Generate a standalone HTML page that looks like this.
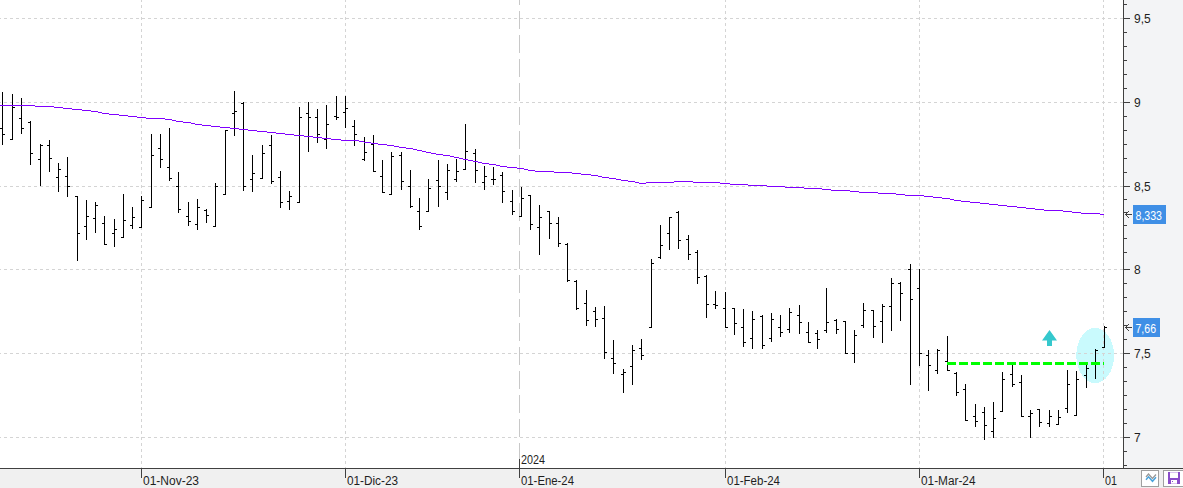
<!DOCTYPE html>
<html><head><meta charset="utf-8"><title>Chart</title>
<style>html,body{margin:0;padding:0;background:#fff;overflow:hidden}svg{display:block}text{font-family:"Liberation Sans",Arial,sans-serif;font-size:12px;fill:#1e1e1e}</style></head><body>
<svg width="1183" height="488" viewBox="0 0 1183 488" shape-rendering="crispEdges">
<rect x="0" y="0" width="1123" height="468" fill="#ffffff"/>
<rect x="1124" y="0" width="59" height="468" fill="#f3f4f6"/>
<rect x="0" y="469" width="1183" height="19" fill="#f0f0f0"/>
<ellipse cx="1095.2" cy="355.5" rx="18.9" ry="27.6" fill="#c9fafd"/>
<line x1="0" y1="18.5" x2="1123" y2="18.5" stroke="#d4d4d4" stroke-width="1" stroke-dasharray="3 3" stroke-dashoffset="2"/>
<line x1="0" y1="102.5" x2="1123" y2="102.5" stroke="#d4d4d4" stroke-width="1" stroke-dasharray="3 3" stroke-dashoffset="2"/>
<line x1="0" y1="186.5" x2="1123" y2="186.5" stroke="#d4d4d4" stroke-width="1" stroke-dasharray="3 3" stroke-dashoffset="2"/>
<line x1="0" y1="269.5" x2="1123" y2="269.5" stroke="#d4d4d4" stroke-width="1" stroke-dasharray="3 3" stroke-dashoffset="2"/>
<line x1="0" y1="353.5" x2="1123" y2="353.5" stroke="#d4d4d4" stroke-width="1" stroke-dasharray="3 3" stroke-dashoffset="2"/>
<line x1="0" y1="437.5" x2="1123" y2="437.5" stroke="#d4d4d4" stroke-width="1" stroke-dasharray="3 3" stroke-dashoffset="2"/>
<line x1="141.5" y1="0" x2="141.5" y2="468" stroke="#d4d4d4" stroke-width="1" stroke-dasharray="3 3" stroke-dashoffset="1"/>
<line x1="345.5" y1="0" x2="345.5" y2="468" stroke="#d4d4d4" stroke-width="1" stroke-dasharray="3 3" stroke-dashoffset="1"/>
<line x1="725.5" y1="0" x2="725.5" y2="468" stroke="#d4d4d4" stroke-width="1" stroke-dasharray="3 3" stroke-dashoffset="1"/>
<line x1="919.5" y1="0" x2="919.5" y2="468" stroke="#d4d4d4" stroke-width="1" stroke-dasharray="3 3" stroke-dashoffset="1"/>
<line x1="1103.5" y1="0" x2="1103.5" y2="468" stroke="#d4d4d4" stroke-width="1" stroke-dasharray="3 3" stroke-dashoffset="1"/>
<line x1="519.5" y1="0" x2="519.5" y2="468" stroke="#c8c8c8" stroke-width="1" stroke-dasharray="18 6" stroke-dashoffset="13"/>
<path d="M2 92h1v53h-1zM0 128h2v1h-2zM3 134h2v1h-2z" fill="#000"/>
<path d="M12 94h1v46h-1zM10 139h2v1h-2zM13 107h2v1h-2z" fill="#000"/>
<path d="M21 98h1v36h-1zM19 118h2v1h-2zM22 128h2v1h-2z" fill="#000"/>
<path d="M30 121h1v44h-1zM28 122h2v1h-2zM31 153h2v1h-2z" fill="#000"/>
<path d="M40 144h1v42h-1zM38 159h2v1h-2zM41 145h2v1h-2z" fill="#000"/>
<path d="M49 140h1v32h-1zM47 145h2v1h-2zM50 158h2v1h-2z" fill="#000"/>
<path d="M58 163h1v29h-1zM56 177h2v1h-2zM59 169h2v1h-2z" fill="#000"/>
<path d="M67 157h1v40h-1zM65 176h2v1h-2zM68 186h2v1h-2z" fill="#000"/>
<path d="M77 196h1v65h-1zM75 196h2v1h-2zM78 233h2v1h-2z" fill="#000"/>
<path d="M86 200h1v40h-1zM84 226h2v1h-2zM87 216h2v1h-2z" fill="#000"/>
<path d="M95 202h1v31h-1zM93 218h2v1h-2zM96 205h2v1h-2z" fill="#000"/>
<path d="M104 216h1v29h-1zM102 223h2v1h-2zM105 244h2v1h-2z" fill="#000"/>
<path d="M114 219h1v28h-1zM112 233h2v1h-2zM115 229h2v1h-2z" fill="#000"/>
<path d="M123 194h1v44h-1zM121 237h2v1h-2zM124 220h2v1h-2z" fill="#000"/>
<path d="M132 207h1v22h-1zM130 225h2v1h-2zM133 217h2v1h-2z" fill="#000"/>
<path d="M141 196h1v32h-1zM139 227h2v1h-2zM142 200h2v1h-2z" fill="#000"/>
<path d="M151 134h1v74h-1zM149 207h2v1h-2zM152 155h2v1h-2z" fill="#000"/>
<path d="M160 134h1v34h-1zM158 148h2v1h-2zM161 159h2v1h-2z" fill="#000"/>
<path d="M169 128h1v53h-1zM167 167h2v1h-2zM170 178h2v1h-2z" fill="#000"/>
<path d="M178 172h1v41h-1zM176 186h2v1h-2zM179 209h2v1h-2z" fill="#000"/>
<path d="M188 202h1v24h-1zM186 216h2v1h-2zM189 221h2v1h-2z" fill="#000"/>
<path d="M197 199h1v31h-1zM195 224h2v1h-2zM198 207h2v1h-2z" fill="#000"/>
<path d="M206 209h1v14h-1zM204 210h2v1h-2zM207 215h2v1h-2z" fill="#000"/>
<path d="M215 183h1v44h-1zM213 226h2v1h-2zM216 186h2v1h-2z" fill="#000"/>
<path d="M225 130h1v65h-1zM223 194h2v1h-2zM226 130h2v1h-2z" fill="#000"/>
<path d="M234 91h1v45h-1zM232 113h2v1h-2zM235 111h2v1h-2z" fill="#000"/>
<path d="M243 102h1v89h-1zM241 103h2v1h-2zM244 186h2v1h-2z" fill="#000"/>
<path d="M252 155h1v37h-1zM250 179h2v1h-2zM253 173h2v1h-2z" fill="#000"/>
<path d="M262 145h1v34h-1zM260 178h2v1h-2zM263 153h2v1h-2z" fill="#000"/>
<path d="M271 135h1v49h-1zM269 145h2v1h-2zM272 181h2v1h-2z" fill="#000"/>
<path d="M280 171h1v37h-1zM278 177h2v1h-2zM281 202h2v1h-2z" fill="#000"/>
<path d="M289 191h1v19h-1zM287 201h2v1h-2zM290 196h2v1h-2z" fill="#000"/>
<path d="M299 107h1v96h-1zM297 202h2v1h-2zM300 117h2v1h-2z" fill="#000"/>
<path d="M308 102h1v50h-1zM306 113h2v1h-2zM309 117h2v1h-2z" fill="#000"/>
<path d="M317 109h1v34h-1zM315 117h2v1h-2zM318 134h2v1h-2z" fill="#000"/>
<path d="M326 105h1v44h-1zM324 139h2v1h-2zM327 124h2v1h-2z" fill="#000"/>
<path d="M336 96h1v24h-1zM334 116h2v1h-2zM337 117h2v1h-2z" fill="#000"/>
<path d="M345 96h1v32h-1zM343 112h2v1h-2zM346 108h2v1h-2z" fill="#000"/>
<path d="M354 120h1v26h-1zM352 126h2v1h-2zM355 134h2v1h-2z" fill="#000"/>
<path d="M364 137h1v24h-1zM362 159h2v1h-2zM365 152h2v1h-2z" fill="#000"/>
<path d="M373 135h1v37h-1zM371 144h2v1h-2zM374 171h2v1h-2z" fill="#000"/>
<path d="M382 160h1v33h-1zM380 176h2v1h-2zM383 192h2v1h-2z" fill="#000"/>
<path d="M391 152h1v43h-1zM389 194h2v1h-2zM392 156h2v1h-2z" fill="#000"/>
<path d="M401 152h1v38h-1zM399 155h2v1h-2zM402 181h2v1h-2z" fill="#000"/>
<path d="M410 170h1v38h-1zM408 186h2v1h-2zM411 206h2v1h-2z" fill="#000"/>
<path d="M419 198h1v32h-1zM417 211h2v1h-2zM420 226h2v1h-2z" fill="#000"/>
<path d="M428 179h1v33h-1zM426 211h2v1h-2zM429 188h2v1h-2z" fill="#000"/>
<path d="M438 160h1v47h-1zM436 180h2v1h-2zM439 186h2v1h-2z" fill="#000"/>
<path d="M447 164h1v36h-1zM445 192h2v1h-2zM448 170h2v1h-2z" fill="#000"/>
<path d="M456 159h1v23h-1zM454 179h2v1h-2zM457 171h2v1h-2z" fill="#000"/>
<path d="M465 124h1v46h-1zM463 169h2v1h-2zM466 151h2v1h-2z" fill="#000"/>
<path d="M475 149h1v34h-1zM473 153h2v1h-2zM476 170h2v1h-2z" fill="#000"/>
<path d="M484 166h1v24h-1zM482 182h2v1h-2zM485 176h2v1h-2z" fill="#000"/>
<path d="M493 167h1v18h-1zM491 179h2v1h-2zM494 179h2v1h-2z" fill="#000"/>
<path d="M502 172h1v31h-1zM500 175h2v1h-2zM503 191h2v1h-2z" fill="#000"/>
<path d="M512 190h1v25h-1zM510 201h2v1h-2zM513 211h2v1h-2z" fill="#000"/>
<path d="M521 187h1v30h-1zM519 216h2v1h-2zM522 198h2v1h-2z" fill="#000"/>
<path d="M530 195h1v35h-1zM528 195h2v1h-2zM531 224h2v1h-2z" fill="#000"/>
<path d="M539 205h1v50h-1zM537 227h2v1h-2zM540 217h2v1h-2z" fill="#000"/>
<path d="M549 211h1v28h-1zM547 211h2v1h-2zM550 223h2v1h-2z" fill="#000"/>
<path d="M558 217h1v30h-1zM556 223h2v1h-2zM559 243h2v1h-2z" fill="#000"/>
<path d="M567 243h1v39h-1zM565 244h2v1h-2zM568 280h2v1h-2z" fill="#000"/>
<path d="M576 280h1v30h-1zM574 281h2v1h-2zM577 308h2v1h-2z" fill="#000"/>
<path d="M586 290h1v36h-1zM584 303h2v1h-2zM587 320h2v1h-2z" fill="#000"/>
<path d="M595 307h1v20h-1zM593 311h2v1h-2zM596 319h2v1h-2z" fill="#000"/>
<path d="M604 306h1v53h-1zM602 318h2v1h-2zM605 352h2v1h-2z" fill="#000"/>
<path d="M613 340h1v34h-1zM611 358h2v1h-2zM614 363h2v1h-2z" fill="#000"/>
<path d="M623 369h1v24h-1zM621 374h2v1h-2zM624 372h2v1h-2z" fill="#000"/>
<path d="M632 345h1v40h-1zM630 366h2v1h-2zM633 350h2v1h-2z" fill="#000"/>
<path d="M641 339h1v21h-1zM639 348h2v1h-2zM642 355h2v1h-2z" fill="#000"/>
<path d="M651 259h1v69h-1zM649 327h2v1h-2zM652 263h2v1h-2z" fill="#000"/>
<path d="M660 225h1v34h-1zM658 257h2v1h-2zM661 245h2v1h-2z" fill="#000"/>
<path d="M669 217h1v33h-1zM667 233h2v1h-2zM670 217h2v1h-2z" fill="#000"/>
<path d="M678 211h1v38h-1zM676 212h2v1h-2zM679 240h2v1h-2z" fill="#000"/>
<path d="M688 235h1v25h-1zM686 239h2v1h-2zM689 254h2v1h-2z" fill="#000"/>
<path d="M697 250h1v34h-1zM695 252h2v1h-2zM698 277h2v1h-2z" fill="#000"/>
<path d="M706 275h1v43h-1zM704 276h2v1h-2zM707 304h2v1h-2z" fill="#000"/>
<path d="M715 291h1v18h-1zM713 304h2v1h-2zM716 305h2v1h-2z" fill="#000"/>
<path d="M725 292h1v36h-1zM723 308h2v1h-2zM726 327h2v1h-2z" fill="#000"/>
<path d="M734 308h1v27h-1zM732 308h2v1h-2zM735 323h2v1h-2z" fill="#000"/>
<path d="M743 309h1v38h-1zM741 327h2v1h-2zM744 342h2v1h-2z" fill="#000"/>
<path d="M752 311h1v38h-1zM750 338h2v1h-2zM753 319h2v1h-2z" fill="#000"/>
<path d="M762 315h1v34h-1zM760 316h2v1h-2zM763 345h2v1h-2z" fill="#000"/>
<path d="M771 313h1v29h-1zM769 338h2v1h-2zM772 319h2v1h-2z" fill="#000"/>
<path d="M780 315h1v22h-1zM778 327h2v1h-2zM781 332h2v1h-2z" fill="#000"/>
<path d="M789 308h1v25h-1zM787 329h2v1h-2zM790 312h2v1h-2z" fill="#000"/>
<path d="M799 305h1v29h-1zM797 315h2v1h-2zM800 322h2v1h-2z" fill="#000"/>
<path d="M808 322h1v21h-1zM806 332h2v1h-2zM809 342h2v1h-2z" fill="#000"/>
<path d="M817 330h1v19h-1zM815 333h2v1h-2zM818 339h2v1h-2z" fill="#000"/>
<path d="M826 288h1v45h-1zM824 330h2v1h-2zM827 322h2v1h-2z" fill="#000"/>
<path d="M836 319h1v15h-1zM834 320h2v1h-2zM837 329h2v1h-2z" fill="#000"/>
<path d="M845 321h1v33h-1zM843 321h2v1h-2zM846 353h2v1h-2z" fill="#000"/>
<path d="M854 330h1v33h-1zM852 353h2v1h-2zM855 335h2v1h-2z" fill="#000"/>
<path d="M863 303h1v25h-1zM861 325h2v1h-2zM864 310h2v1h-2z" fill="#000"/>
<path d="M873 310h1v28h-1zM871 310h2v1h-2zM874 326h2v1h-2z" fill="#000"/>
<path d="M882 304h1v39h-1zM880 321h2v1h-2zM883 306h2v1h-2z" fill="#000"/>
<path d="M891 278h1v53h-1zM889 306h2v1h-2zM892 283h2v1h-2z" fill="#000"/>
<path d="M900 282h1v39h-1zM898 283h2v1h-2zM901 293h2v1h-2z" fill="#000"/>
<path d="M910 264h1v121h-1zM908 269h2v1h-2zM911 299h2v1h-2z" fill="#000"/>
<path d="M919 269h1v97h-1zM917 288h2v1h-2zM920 353h2v1h-2z" fill="#000"/>
<path d="M928 350h1v41h-1zM926 355h2v1h-2zM929 365h2v1h-2z" fill="#000"/>
<path d="M937 349h1v25h-1zM935 370h2v1h-2zM938 350h2v1h-2z" fill="#000"/>
<path d="M947 336h1v35h-1zM945 361h2v1h-2zM948 370h2v1h-2z" fill="#000"/>
<path d="M956 372h1v24h-1zM954 373h2v1h-2zM957 392h2v1h-2z" fill="#000"/>
<path d="M965 384h1v37h-1zM963 389h2v1h-2zM966 420h2v1h-2z" fill="#000"/>
<path d="M975 404h1v23h-1zM973 416h2v1h-2zM976 421h2v1h-2z" fill="#000"/>
<path d="M984 407h1v33h-1zM982 412h2v1h-2zM985 425h2v1h-2z" fill="#000"/>
<path d="M993 402h1v36h-1zM991 431h2v1h-2zM994 418h2v1h-2z" fill="#000"/>
<path d="M1002 372h1v40h-1zM1000 411h2v1h-2zM1003 379h2v1h-2z" fill="#000"/>
<path d="M1012 365h1v22h-1zM1010 374h2v1h-2zM1013 384h2v1h-2z" fill="#000"/>
<path d="M1021 375h1v42h-1zM1019 382h2v1h-2zM1022 416h2v1h-2z" fill="#000"/>
<path d="M1030 410h1v28h-1zM1028 416h2v1h-2zM1031 413h2v1h-2z" fill="#000"/>
<path d="M1039 409h1v18h-1zM1037 409h2v1h-2zM1040 422h2v1h-2z" fill="#000"/>
<path d="M1049 410h1v17h-1zM1047 423h2v1h-2zM1050 416h2v1h-2z" fill="#000"/>
<path d="M1058 410h1v15h-1zM1056 424h2v1h-2zM1059 417h2v1h-2z" fill="#000"/>
<path d="M1067 370h1v43h-1zM1065 408h2v1h-2zM1068 384h2v1h-2z" fill="#000"/>
<path d="M1076 371h1v45h-1zM1074 415h2v1h-2zM1077 379h2v1h-2z" fill="#000"/>
<path d="M1086 364h1v24h-1zM1084 375h2v1h-2zM1087 368h2v1h-2z" fill="#000"/>
<path d="M1095 349h1v30h-1zM1093 363h2v1h-2zM1096 350h2v1h-2z" fill="#000"/>
<path d="M1104 326h1v22h-1zM1102 347h2v1h-2zM1105 327h2v1h-2z" fill="#000"/>
<rect x="0" y="105" width="35" height="1" fill="#8000ff"/>
<rect x="35" y="106" width="19" height="1" fill="#8000ff"/>
<rect x="54" y="107" width="9" height="1" fill="#8000ff"/>
<rect x="63" y="108" width="9" height="1" fill="#8000ff"/>
<rect x="72" y="109" width="10" height="1" fill="#8000ff"/>
<rect x="82" y="110" width="9" height="1" fill="#8000ff"/>
<rect x="91" y="111" width="7" height="1" fill="#8000ff"/>
<rect x="98" y="112" width="4" height="1" fill="#8000ff"/>
<rect x="102" y="113" width="7" height="1" fill="#8000ff"/>
<rect x="109" y="114" width="10" height="1" fill="#8000ff"/>
<rect x="119" y="115" width="9" height="1" fill="#8000ff"/>
<rect x="128" y="116" width="9" height="1" fill="#8000ff"/>
<rect x="137" y="117" width="9" height="1" fill="#8000ff"/>
<rect x="146" y="118" width="19" height="1" fill="#8000ff"/>
<rect x="165" y="119" width="7" height="1" fill="#8000ff"/>
<rect x="172" y="120" width="4" height="1" fill="#8000ff"/>
<rect x="176" y="121" width="7" height="1" fill="#8000ff"/>
<rect x="183" y="122" width="8" height="1" fill="#8000ff"/>
<rect x="191" y="123" width="4" height="1" fill="#8000ff"/>
<rect x="195" y="124" width="7" height="1" fill="#8000ff"/>
<rect x="202" y="125" width="9" height="1" fill="#8000ff"/>
<rect x="211" y="126" width="9" height="1" fill="#8000ff"/>
<rect x="220" y="127" width="10" height="1" fill="#8000ff"/>
<rect x="230" y="128" width="9" height="1" fill="#8000ff"/>
<rect x="239" y="129" width="9" height="1" fill="#8000ff"/>
<rect x="248" y="130" width="9" height="1" fill="#8000ff"/>
<rect x="257" y="131" width="10" height="1" fill="#8000ff"/>
<rect x="267" y="132" width="9" height="1" fill="#8000ff"/>
<rect x="276" y="133" width="9" height="1" fill="#8000ff"/>
<rect x="285" y="134" width="9" height="1" fill="#8000ff"/>
<rect x="294" y="135" width="10" height="1" fill="#8000ff"/>
<rect x="304" y="136" width="9" height="1" fill="#8000ff"/>
<rect x="313" y="137" width="9" height="1" fill="#8000ff"/>
<rect x="322" y="138" width="9" height="1" fill="#8000ff"/>
<rect x="331" y="139" width="10" height="1" fill="#8000ff"/>
<rect x="341" y="140" width="18" height="1" fill="#8000ff"/>
<rect x="359" y="141" width="5" height="1" fill="#8000ff"/>
<rect x="364" y="142" width="7" height="1" fill="#8000ff"/>
<rect x="371" y="143" width="7" height="1" fill="#8000ff"/>
<rect x="378" y="144" width="9" height="1" fill="#8000ff"/>
<rect x="387" y="145" width="7" height="1" fill="#8000ff"/>
<rect x="394" y="146" width="5" height="1" fill="#8000ff"/>
<rect x="399" y="147" width="7" height="1" fill="#8000ff"/>
<rect x="406" y="148" width="7" height="1" fill="#8000ff"/>
<rect x="413" y="149" width="4" height="1" fill="#8000ff"/>
<rect x="417" y="150" width="5" height="1" fill="#8000ff"/>
<rect x="422" y="151" width="4" height="1" fill="#8000ff"/>
<rect x="426" y="152" width="5" height="1" fill="#8000ff"/>
<rect x="431" y="153" width="5" height="1" fill="#8000ff"/>
<rect x="436" y="154" width="7" height="1" fill="#8000ff"/>
<rect x="443" y="155" width="7" height="1" fill="#8000ff"/>
<rect x="450" y="156" width="4" height="1" fill="#8000ff"/>
<rect x="454" y="157" width="5" height="1" fill="#8000ff"/>
<rect x="459" y="158" width="4" height="1" fill="#8000ff"/>
<rect x="463" y="159" width="5" height="1" fill="#8000ff"/>
<rect x="468" y="160" width="5" height="1" fill="#8000ff"/>
<rect x="473" y="161" width="5" height="1" fill="#8000ff"/>
<rect x="478" y="162" width="4" height="1" fill="#8000ff"/>
<rect x="482" y="163" width="7" height="1" fill="#8000ff"/>
<rect x="489" y="164" width="7" height="1" fill="#8000ff"/>
<rect x="496" y="165" width="4" height="1" fill="#8000ff"/>
<rect x="500" y="166" width="7" height="1" fill="#8000ff"/>
<rect x="507" y="167" width="10" height="1" fill="#8000ff"/>
<rect x="517" y="168" width="7" height="1" fill="#8000ff"/>
<rect x="524" y="169" width="4" height="1" fill="#8000ff"/>
<rect x="528" y="170" width="7" height="1" fill="#8000ff"/>
<rect x="535" y="171" width="19" height="1" fill="#8000ff"/>
<rect x="554" y="172" width="18" height="1" fill="#8000ff"/>
<rect x="572" y="173" width="9" height="1" fill="#8000ff"/>
<rect x="581" y="174" width="10" height="1" fill="#8000ff"/>
<rect x="591" y="175" width="7" height="1" fill="#8000ff"/>
<rect x="598" y="176" width="4" height="1" fill="#8000ff"/>
<rect x="602" y="177" width="7" height="1" fill="#8000ff"/>
<rect x="609" y="178" width="7" height="1" fill="#8000ff"/>
<rect x="616" y="179" width="5" height="1" fill="#8000ff"/>
<rect x="621" y="180" width="7" height="1" fill="#8000ff"/>
<rect x="628" y="181" width="7" height="1" fill="#8000ff"/>
<rect x="635" y="182" width="4" height="1" fill="#8000ff"/>
<rect x="639" y="183" width="7" height="1" fill="#8000ff"/>
<rect x="646" y="182" width="28" height="1" fill="#8000ff"/>
<rect x="674" y="181" width="19" height="1" fill="#8000ff"/>
<rect x="693" y="182" width="27" height="1" fill="#8000ff"/>
<rect x="720" y="183" width="10" height="1" fill="#8000ff"/>
<rect x="730" y="184" width="18" height="1" fill="#8000ff"/>
<rect x="748" y="185" width="19" height="1" fill="#8000ff"/>
<rect x="767" y="186" width="18" height="1" fill="#8000ff"/>
<rect x="785" y="187" width="19" height="1" fill="#8000ff"/>
<rect x="804" y="188" width="18" height="1" fill="#8000ff"/>
<rect x="822" y="189" width="9" height="1" fill="#8000ff"/>
<rect x="831" y="190" width="19" height="1" fill="#8000ff"/>
<rect x="850" y="191" width="9" height="1" fill="#8000ff"/>
<rect x="859" y="192" width="19" height="1" fill="#8000ff"/>
<rect x="878" y="193" width="18" height="1" fill="#8000ff"/>
<rect x="896" y="194" width="9" height="1" fill="#8000ff"/>
<rect x="905" y="195" width="19" height="1" fill="#8000ff"/>
<rect x="924" y="196" width="9" height="1" fill="#8000ff"/>
<rect x="933" y="197" width="9" height="1" fill="#8000ff"/>
<rect x="942" y="198" width="8" height="1" fill="#8000ff"/>
<rect x="950" y="199" width="4" height="1" fill="#8000ff"/>
<rect x="954" y="200" width="7" height="1" fill="#8000ff"/>
<rect x="961" y="201" width="9" height="1" fill="#8000ff"/>
<rect x="970" y="202" width="10" height="1" fill="#8000ff"/>
<rect x="980" y="203" width="9" height="1" fill="#8000ff"/>
<rect x="989" y="204" width="9" height="1" fill="#8000ff"/>
<rect x="998" y="205" width="9" height="1" fill="#8000ff"/>
<rect x="1007" y="206" width="10" height="1" fill="#8000ff"/>
<rect x="1017" y="207" width="9" height="1" fill="#8000ff"/>
<rect x="1026" y="208" width="9" height="1" fill="#8000ff"/>
<rect x="1035" y="209" width="9" height="1" fill="#8000ff"/>
<rect x="1044" y="210" width="19" height="1" fill="#8000ff"/>
<rect x="1063" y="211" width="9" height="1" fill="#8000ff"/>
<rect x="1072" y="212" width="9" height="1" fill="#8000ff"/>
<rect x="1081" y="213" width="19" height="1" fill="#8000ff"/>
<rect x="1100" y="214" width="4" height="1" fill="#8000ff"/>
<path d="M947 362h9v3h-9zM959 362h9v3h-9zM971 362h9v3h-9zM983 362h9v3h-9zM995 362h9v3h-9zM1007 362h9v3h-9zM1019 362h9v3h-9zM1031 362h9v3h-9zM1043 362h9v3h-9zM1055 362h9v3h-9zM1067 362h9v3h-9zM1079 362h9v3h-9zM1091 362h9v3h-9zM1103 362h1v3h-1z" fill="#00ff00"/>
<path d="M1049.5 330L1057 340.5H1052V346H1047V340.5H1042Z" fill="#35c8cd" shape-rendering="auto"/>
<rect x="1123" y="0" width="1" height="469" fill="#404040"/>
<rect x="0" y="468" width="1183" height="1" fill="#404040"/>
<rect x="1124" y="4" width="3" height="1" fill="#404040"/>
<rect x="1124" y="32" width="3" height="1" fill="#404040"/>
<rect x="1124" y="46" width="3" height="1" fill="#404040"/>
<rect x="1124" y="60" width="3" height="1" fill="#404040"/>
<rect x="1124" y="74" width="3" height="1" fill="#404040"/>
<rect x="1124" y="88" width="3" height="1" fill="#404040"/>
<rect x="1124" y="116" width="3" height="1" fill="#404040"/>
<rect x="1124" y="130" width="3" height="1" fill="#404040"/>
<rect x="1124" y="144" width="3" height="1" fill="#404040"/>
<rect x="1124" y="158" width="3" height="1" fill="#404040"/>
<rect x="1124" y="172" width="3" height="1" fill="#404040"/>
<rect x="1124" y="199" width="3" height="1" fill="#404040"/>
<rect x="1124" y="212" width="3" height="1" fill="#404040"/>
<rect x="1124" y="225" width="3" height="1" fill="#404040"/>
<rect x="1124" y="238" width="3" height="1" fill="#404040"/>
<rect x="1124" y="252" width="3" height="1" fill="#404040"/>
<rect x="1124" y="283" width="3" height="1" fill="#404040"/>
<rect x="1124" y="297" width="3" height="1" fill="#404040"/>
<rect x="1124" y="311" width="3" height="1" fill="#404040"/>
<rect x="1124" y="325" width="3" height="1" fill="#404040"/>
<rect x="1124" y="339" width="3" height="1" fill="#404040"/>
<rect x="1124" y="367" width="3" height="1" fill="#404040"/>
<rect x="1124" y="381" width="3" height="1" fill="#404040"/>
<rect x="1124" y="395" width="3" height="1" fill="#404040"/>
<rect x="1124" y="409" width="3" height="1" fill="#404040"/>
<rect x="1124" y="423" width="3" height="1" fill="#404040"/>
<rect x="1124" y="451" width="3" height="1" fill="#404040"/>
<rect x="1124" y="465" width="3" height="1" fill="#404040"/>
<rect x="1124" y="18" width="6" height="1" fill="#404040"/>
<text x="1134" y="23">9,5</text>
<rect x="1124" y="102" width="6" height="1" fill="#404040"/>
<text x="1134" y="107">9</text>
<rect x="1124" y="186" width="6" height="1" fill="#404040"/>
<text x="1134" y="191">8,5</text>
<rect x="1124" y="269" width="6" height="1" fill="#404040"/>
<text x="1134" y="274">8</text>
<rect x="1124" y="353" width="6" height="1" fill="#404040"/>
<text x="1134" y="358">7,5</text>
<rect x="1124" y="437" width="6" height="1" fill="#404040"/>
<text x="1134" y="442">7</text>
<rect x="141" y="469" width="1" height="9" fill="#404040"/>
<text x="143" y="485" textLength="56" lengthAdjust="spacingAndGlyphs">01-Nov-23</text>
<rect x="345" y="469" width="1" height="9" fill="#404040"/>
<text x="347" y="485" textLength="51" lengthAdjust="spacingAndGlyphs">01-Dic-23</text>
<rect x="519" y="469" width="1" height="9" fill="#404040"/>
<text x="521" y="485" textLength="53" lengthAdjust="spacingAndGlyphs">01-Ene-24</text>
<rect x="725" y="469" width="1" height="9" fill="#404040"/>
<text x="727" y="485" textLength="53" lengthAdjust="spacingAndGlyphs">01-Feb-24</text>
<rect x="919" y="469" width="1" height="9" fill="#404040"/>
<text x="921" y="485" textLength="54.5" lengthAdjust="spacingAndGlyphs">01-Mar-24</text>
<rect x="1103" y="469" width="1" height="9" fill="#404040"/>
<text x="1105" y="485" textLength="12" lengthAdjust="spacingAndGlyphs">01</text>
<rect x="519" y="459" width="1" height="9" fill="#404040"/>
<text x="521" y="464" textLength="24" lengthAdjust="spacingAndGlyphs">2024</text>
<path d="M1125 214h7v1h-7zM1126 213h1v1h-1zM1127 212h1v1h-1zM1128 211h1v1h-1zM1126 215h1v1h-1zM1127 216h1v1h-1zM1128 217h1v1h-1z" fill="#404040"/>
<rect x="1133" y="205" width="33" height="19" fill="#3f8fe6"/>
<text x="1135.5" y="220" style="fill:#fff" textLength="26.5" lengthAdjust="spacingAndGlyphs">8,333</text>
<path d="M1125 327h7v1h-7zM1126 326h1v1h-1zM1127 325h1v1h-1zM1128 324h1v1h-1zM1126 328h1v1h-1zM1127 329h1v1h-1zM1128 330h1v1h-1z" fill="#404040"/>
<rect x="1133" y="318" width="27" height="19" fill="#3f8fe6"/>
<text x="1135.5" y="333" style="fill:#fff" textLength="20.5" lengthAdjust="spacingAndGlyphs">7,66</text>
<rect x="1141.5" y="470.5" width="17" height="16" fill="#fff" stroke="#a0a0a0"/>
<path d="M1146 477L1148.5 474L1152.5 478.5L1156 474.5" stroke="#999999" stroke-width="1.3" fill="none" shape-rendering="auto"/>
<path d="M1146 479.8L1148.5 476.8L1152.5 481.3L1156 477.3" stroke="#4aa3dc" stroke-width="1.5" fill="none" shape-rendering="auto"/>
<rect x="1163.5" y="470.5" width="21" height="16" fill="#fff" stroke="#a0a0a0"/>
<rect x="1168" y="472" width="12" height="12" fill="#8a4dc9"/>
<rect x="1170" y="472" width="8" height="1" fill="#d9c6f0"/>
<rect x="1170" y="473" width="8" height="5" fill="#ffffff"/>
<rect x="1171" y="480" width="6" height="3" fill="#ffffff"/>
<rect x="1171" y="483" width="6" height="1" fill="#dccaf0"/>
<rect x="1172" y="481" width="1" height="1" fill="#8a4dc9"/>
</svg></body></html>
